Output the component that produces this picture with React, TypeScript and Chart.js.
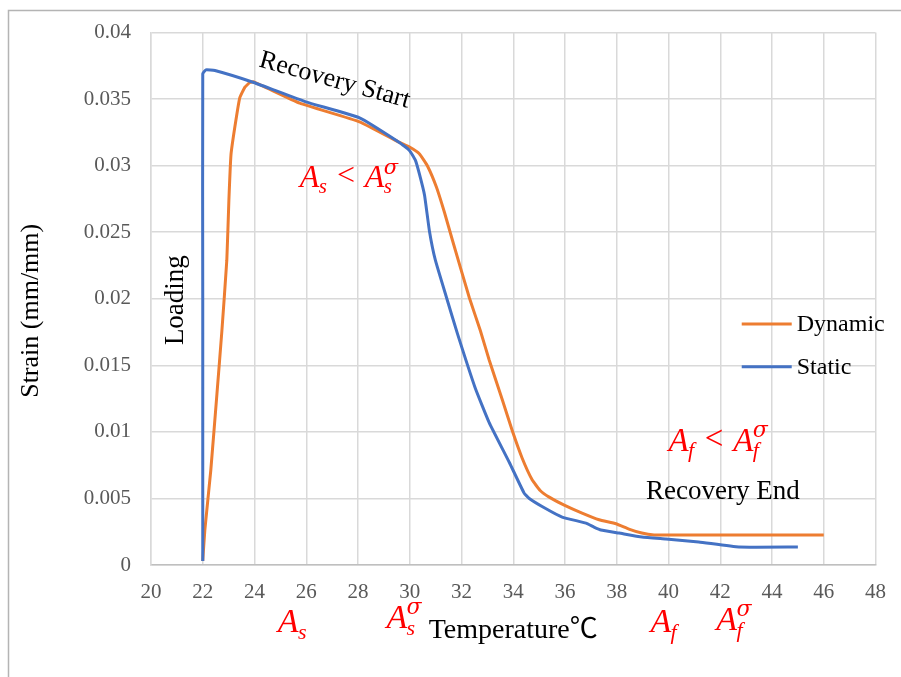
import React, { useEffect, useRef } from 'react';
import { Chart, registerables } from 'chart.js';

Chart.register(...registerables);

// ---- data ----
const seriesNames = ['Dynamic', 'Static'];
const seriesColors = ['#ED7D31', '#4472C4'];

const dynamicTemp = [22.0, 22.08, 22.31, 22.55, 22.74, 22.93, 23.01, 23.09, 23.24, 23.43, 23.63, 23.82, 23.97, 25.75, 28.06, 29.6, 29.99, 30.37, 30.68, 31.03, 31.34, 31.65, 32.3, 32.73, 33.07, 33.58, 33.96, 34.35, 34.73, 35.04, 35.39, 35.97, 36.66, 37.32, 37.97, 38.47, 38.97, 39.44, 39.9, 46.0];
const dynamicStrain = [0.0003, 0.0026, 0.0071, 0.0129, 0.0176, 0.0229, 0.0274, 0.0308, 0.0329, 0.0351, 0.0359, 0.03625, 0.0363, 0.0347, 0.0333, 0.03175, 0.0314, 0.0309, 0.03, 0.0284, 0.0265, 0.0244, 0.0201, 0.0176, 0.0154, 0.0124, 0.0101, 0.008, 0.0064, 0.0056, 0.0051, 0.0045, 0.0039, 0.0034, 0.0031, 0.0027, 0.0024, 0.00225, 0.00225, 0.00225];

const staticTemp = [22.0, 22.0, 22.0, 22.12, 22.47, 23.97, 25.98, 28.06, 29.6, 29.99, 30.22, 30.37, 30.57, 30.76, 30.99, 31.42, 31.84, 32.53, 33.07, 33.85, 34.42, 34.62, 35.2, 35.89, 36.81, 37.12, 37.39, 38.09, 38.97, 39.9, 41.17, 42.72, 45.0];
const staticStrain = [0.0003, 0.02, 0.0369, 0.0372, 0.03715, 0.03625, 0.0348, 0.0336, 0.03175, 0.03115, 0.0304, 0.0294, 0.0278, 0.0251, 0.0229, 0.0201, 0.0174, 0.0133, 0.0107, 0.0077, 0.0054, 0.005, 0.0043, 0.0036, 0.00315, 0.00285, 0.00263, 0.0024, 0.0021, 0.00195, 0.00173, 0.00135, 0.00135];

const xTickValues = [20, 22, 24, 26, 28, 30, 32, 34, 36, 38, 40, 42, 44, 46, 48];
const yTickLabels = ['0', '0.005', '0.01', '0.015', '0.02', '0.025', '0.03', '0.035', '0.04'];

const xTitle = 'Temperature℃';
const yTitle = 'Strain (mm/mm)';

const SERIF = "'Liberation Serif', 'Noto Sans CJK SC', serif";
const RED = '#FF0000';

function drawSymbol(ctx: CanvasRenderingContext2D, x: number, y: number, size: number, sub: string, sup?: string) {
  ctx.font = `italic ${size}px 'Liberation Serif', serif`;
  ctx.textAlign = 'left';
  ctx.textBaseline = 'alphabetic';
  ctx.fillText('A', x, y);
  const w = ctx.measureText('A').width;
  const ss = Math.round(size * 0.66);
  ctx.font = `italic ${ss}px 'Liberation Serif', serif`;
  const subW = ctx.measureText(sub).width;
  ctx.fillText(sub, x + w - size * 0.02, y + size * 0.2);
  let supW = 0;
  if (sup) {
    ctx.font = `italic ${ss}px 'DejaVu Serif', serif`;
    supW = ctx.measureText(sup).width;
    ctx.fillText(sup, x + w - size * 0.02, y - size * 0.42);
  }
  return x + w + Math.max(subW, supW);
}

function drawInequality(ctx: CanvasRenderingContext2D, x: number, y: number, size: number, sub: string) {
  let cx = drawSymbol(ctx, x, y, size, sub);
  cx += size * 0.3;
  ctx.font = `${size}px 'Liberation Serif', serif`;
  ctx.fillText('<', cx, y - size * 0.06);
  cx += ctx.measureText('<').width + size * 0.3;
  drawSymbol(ctx, cx, y, size, sub, 'σ');
}

const annotationPlugin = {
  id: 'annotations',
  beforeDraw(chart: any) {
    const ctx = chart.ctx as CanvasRenderingContext2D;
    ctx.save();
    ctx.fillStyle = '#ffffff';
    ctx.fillRect(0, 0, chart.width, chart.height);
    ctx.strokeStyle = '#b4b4b4';
    ctx.lineWidth = 1.5;
    ctx.strokeRect(8.5, 10.5, chart.width + 20, chart.height + 20);
    ctx.restore();
  },
  afterDraw(chart: any) {
    const ctx = chart.ctx as CanvasRenderingContext2D;
    const xs = chart.scales.x;
    const ys = chart.scales.y;
    const area = chart.chartArea;
    ctx.save();

    // y axis title
    ctx.fillStyle = '#000000';
    ctx.textAlign = 'center';
    ctx.textBaseline = 'middle';
    ctx.save();
    ctx.font = `26px ${SERIF}`;
    ctx.translate(31, (area.top + area.bottom) / 2 + 12);
    ctx.rotate(-Math.PI / 2);
    ctx.fillText(yTitle, 0, 0);
    ctx.restore();

    // black text annotations
    ctx.font = `26px ${SERIF}`;
    ctx.save();
    ctx.translate(xs.getPixelForValue(27.1), ys.getPixelForValue(0.0364));
    ctx.rotate((15.5 * Math.PI) / 180);
    ctx.fillText('Recovery Start', 0, 0);
    ctx.restore();

    ctx.save();
    ctx.font = `27px ${SERIF}`;
    ctx.translate(xs.getPixelForValue(20.95), ys.getPixelForValue(0.0199));
    ctx.rotate(-Math.PI / 2);
    ctx.fillText('Loading', 0, 0);
    ctx.restore();

    ctx.font = `27px ${SERIF}`;
    ctx.fillText('Recovery End', xs.getPixelForValue(42.1), ys.getPixelForValue(0.0055));

    // red math annotations
    ctx.fillStyle = RED;
    drawInequality(ctx, xs.getPixelForValue(25.75), ys.getPixelForValue(0.0284), 32, 's');
    drawInequality(ctx, xs.getPixelForValue(40.0), ys.getPixelForValue(0.0086), 33, 'f');

    const by = area.bottom + 67;
    drawSymbol(ctx, xs.getPixelForValue(24.9), by, 34, 's');
    drawSymbol(ctx, xs.getPixelForValue(29.1), by - 4, 34, 's', 'σ');
    drawSymbol(ctx, xs.getPixelForValue(39.3), by, 34, 'f');
    drawSymbol(ctx, xs.getPixelForValue(41.85), by - 2, 34, 'f', 'σ');

    // legend
    const lx = xs.getPixelForValue(42.83);
    const legendYs = [ys.getPixelForValue(0.0181), ys.getPixelForValue(0.0149)];
    chart.data.datasets.forEach((ds: any, i: number) => {
      const y = legendYs[i];
      ctx.strokeStyle = ds.borderColor;
      ctx.lineWidth = 3;
      ctx.beginPath();
      ctx.moveTo(lx, y);
      ctx.lineTo(lx + 50, y);
      ctx.stroke();
      ctx.fillStyle = '#000000';
      ctx.font = `24px ${SERIF}`;
      ctx.textAlign = 'left';
      ctx.textBaseline = 'middle';
      ctx.fillText(ds.label, lx + 55, y + 1);
    });

    ctx.restore();
  },
};

export default function App() {
  const canvasRef = useRef<HTMLCanvasElement | null>(null);

  useEffect(() => {
    const canvas = canvasRef.current;
    if (!canvas) return;
    const chart = new Chart(canvas, {
      type: 'scatter',
      data: {
        datasets: [
          {
            label: seriesNames[0],
            data: dynamicTemp.map((t, i) => ({ x: t, y: dynamicStrain[i] })),
            showLine: true,
            borderColor: seriesColors[0],
            backgroundColor: seriesColors[0],
            borderWidth: 3,
            pointRadius: 0,
            tension: 0.12,
            order: 1,
          },
          {
            label: seriesNames[1],
            data: staticTemp.map((t, i) => ({ x: t, y: staticStrain[i] })),
            showLine: true,
            borderColor: seriesColors[1],
            backgroundColor: seriesColors[1],
            borderWidth: 3,
            pointRadius: 0,
            tension: 0.12,
            order: 0,
          },
        ],
      },
      options: {
        animation: false,
        responsive: false,
        devicePixelRatio: 1,
        layout: { padding: { top: 32, right: 24, left: 0, bottom: 0 } },
        plugins: {
          legend: { display: false },
          tooltip: { enabled: false },
        },
        scales: {
          x: {
            type: 'linear',
            min: xTickValues[0],
            max: xTickValues[xTickValues.length - 1],
            afterBuildTicks: (scale: any) => {
              scale.ticks = xTickValues.map((v) => ({ value: v }));
            },
            afterFit: (scale: any) => {
              scale.height = 112;
            },
            ticks: {
              color: '#595959',
              font: { family: SERIF, size: 21 },
              padding: 15,
              maxRotation: 0,
              autoSkip: false,
              callback: (v: any) => String(v),
            },
            grid: { color: '#d9d9d9', lineWidth: 1.5, drawTicks: false },
            border: { color: '#bfbfbf', width: 1.5 },
            title: {
              display: true,
              text: xTitle,
              color: '#000000',
              font: { family: SERIF, size: 28 },
              padding: { top: 30, bottom: 30 },
            },
          },
          y: {
            type: 'linear',
            min: 0,
            max: 0.04,
            afterBuildTicks: (scale: any) => {
              scale.ticks = yTickLabels.map((_, i) => ({ value: i * 0.005 }));
            },
            afterFit: (scale: any) => {
              scale.width = 151;
            },
            ticks: {
              color: '#595959',
              font: { family: SERIF, size: 21 },
              padding: 20,
              autoSkip: false,
              callback: (_v: any, i: number) => yTickLabels[i],
            },
            grid: { color: '#d9d9d9', lineWidth: 1.5, drawTicks: false },
            border: { color: '#d9d9d9', width: 1.5 },
            title: { display: false, text: yTitle },
          },
        },
      },
      plugins: [annotationPlugin],
    } as any);
    return () => chart.destroy();
  }, []);

  return (
    <div style={{ position: 'fixed', left: 0, top: 0, width: 901, height: 677, background: '#fff' }}>
      <canvas ref={canvasRef} width={901} height={677} style={{ display: 'block', width: 901, height: 677 }} />
    </div>
  );
}
